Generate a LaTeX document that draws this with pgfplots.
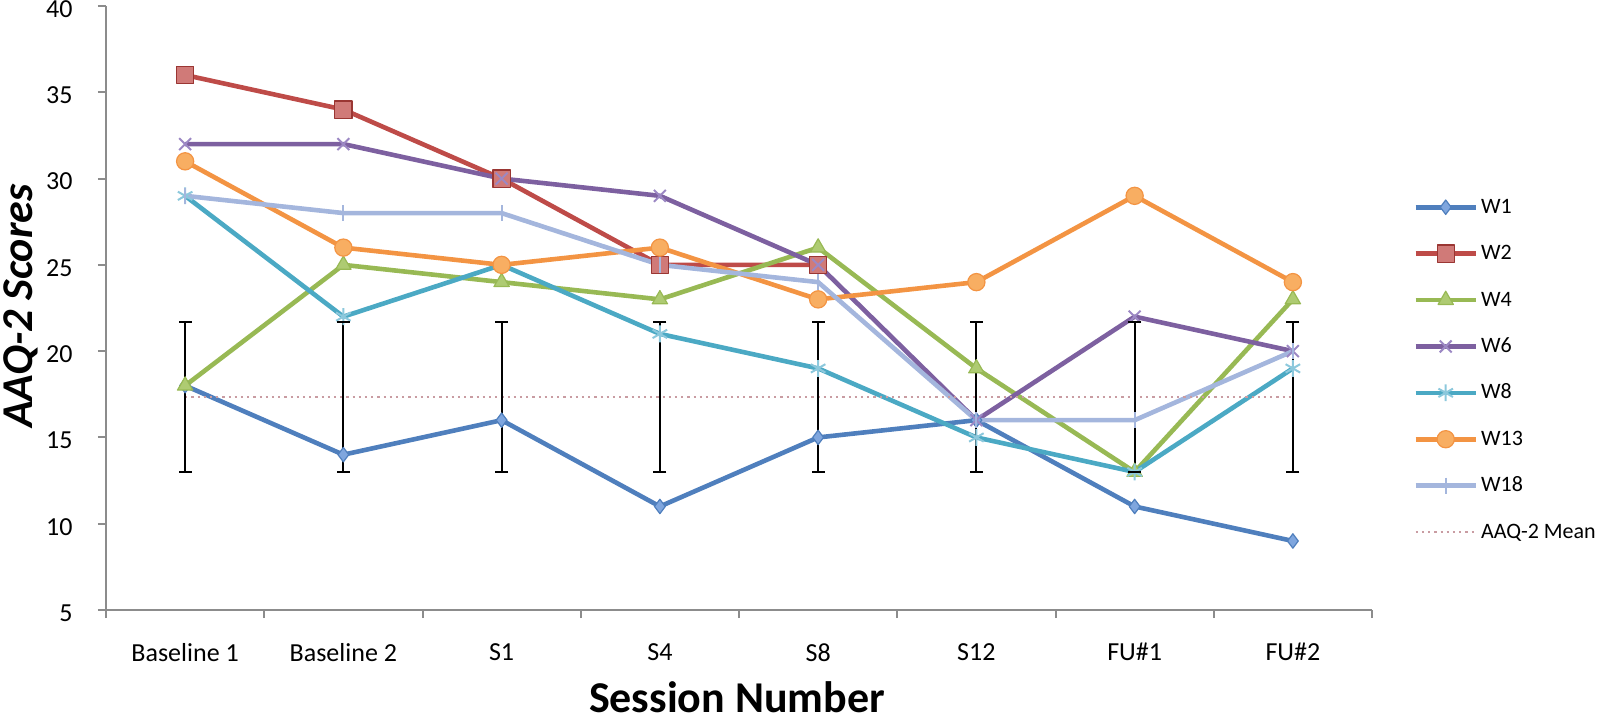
\documentclass[border=0pt]{standalone}
\usepackage{fontspec}
\setmainfont{Carlito}
\usepackage{pgfplots}
\pgfplotsset{compat=1.18}
\definecolor{axisgray}{HTML}{8C8C8C}
\definecolor{cW1}{HTML}{4F7FBD}
\definecolor{fW1}{HTML}{7FA6DE}
\definecolor{cW2}{HTML}{BE4B48}
\definecolor{fW2}{HTML}{D07A78}
\definecolor{dW2}{HTML}{9A3633}
\definecolor{cW4}{HTML}{98B954}
\definecolor{fW4}{HTML}{AECB72}
\definecolor{cW6}{HTML}{7D60A0}
\definecolor{fW6}{HTML}{9C88C4}
\definecolor{cW8}{HTML}{4BA9C4}
\definecolor{fW8}{HTML}{8CC8DC}
\definecolor{cW13}{HTML}{F39443}
\definecolor{fW13}{HTML}{F8AE62}
\definecolor{cW18}{HTML}{A4B6DD}
\definecolor{cMean}{HTML}{C99CA2}
\begin{document}
\begin{tikzpicture}
\begin{axis}[
  at={(53pt,55pt)}, anchor=south west,
  scale only axis, width=633pt, height=302pt,
  xmin=-0.5, xmax=7.5, ymin=5, ymax=40,
  clip=false,
  axis lines=left,
  axis line style={-, draw=axisgray, line width=1pt},
  xtick={-0.5,0.5,...,7.5},
  x tick label as interval,
  xticklabels={Baseline 1,Baseline 2,S1,S4,S8,S12,FU\#1,FU\#2},
  ytick={5,10,...,40},
  tick align=outside, major tick length=4pt,
  tick style={draw=axisgray, line width=1pt},
  /pgf/number format/assume math mode=true,
  ticklabel style={font=\fontsize{13}{15}\selectfont},
  yticklabel style={inner sep=0pt, xshift=-12.5pt, yshift=-1.5pt},
  xticklabel style={inner sep=0pt, yshift=-12.5pt},
  xlabel={\bfseries Session Number},
  xlabel style={font=\fontsize{22}{26}\selectfont, at={(axis description cs:0.4984,0)}, anchor=base, yshift=-51pt},
  ylabel={\bfseries\itshape AAQ-2 Scores},
  ylabel style={font=\fontsize{22}{26}\selectfont, at={(axis description cs:-0.0577,0.503)}, anchor=base},
  legend style={draw=none, fill=none, inner sep=0pt, at={(1.0324,0.398)}, anchor=west,
    font=\fontsize{11}{13}\selectfont, row sep=9.2pt,
    nodes={inner sep=1.5pt, text height=8.5pt, text depth=2.5pt}},
  legend cell align=left,
  legend image code/.code={\draw[mark repeat=2,mark phase=2,#1] plot coordinates {(0pt,0pt) (15pt,0pt) (30pt,0pt)};},
  every axis plot/.append style={line width=2.3pt, line join=round},
]
\addplot[cW1, mark=diamond*, mark size=3.6pt, mark options={solid, line width=0.6pt, draw=cW1, fill=fW1}]
  coordinates {(0,18) (1,14) (2,16) (3,11) (4,15) (5,16) (6,11) (7,9)};
\addlegendentry{W1}
\addplot[cW2, mark=square*, mark size=4.3pt, mark options={solid, line width=0.6pt, draw=dW2, fill=fW2}]
  coordinates {(0,36) (1,34) (2,30) (3,25) (4,25)};
\addlegendentry{W2}
\addplot[cW4, mark=triangle*, mark size=4.4pt, mark options={solid, line width=0.6pt, draw=cW4, fill=fW4}]
  coordinates {(0,18) (1,25) (2,24) (3,23) (4,26) (5,19) (6,13) (7,23)};
\addlegendentry{W4}
\addplot[cW6, mark=x, mark size=4.2pt, mark options={solid, line width=1pt, draw=fW6}]
  coordinates {(0,32) (1,32) (2,30) (3,29) (4,25) (5,16) (6,22) (7,20)};
\addlegendentry{W6}
\addplot[cW8, mark=asterisk, mark size=4.2pt, mark options={solid, line width=1pt, draw=fW8}]
  coordinates {(0,29) (1,22) (2,25) (3,21) (4,19) (5,15) (6,13) (7,19)};
\addlegendentry{W8}
\addplot[cW13, mark=*, mark size=4.3pt, mark options={solid, line width=0.6pt, draw=cW13, fill=fW13}]
  coordinates {(0,31) (1,26) (2,25) (3,26) (4,23) (5,24) (6,29) (7,24)};
\addlegendentry{W13}
\addplot[cW18, mark=|, mark size=4pt, mark options={solid, line width=1pt, draw=cW18}]
  coordinates {(0,29) (1,28) (2,28) (3,25) (4,24) (5,16) (6,16) (7,20)};
\addlegendentry{W18}
\addplot[cMean, line width=1.1pt, dash pattern=on 1.1pt off 2pt, mark=none,
  error bars/.cd, y dir=both, y explicit, error mark=none,
  error bar style={black, line width=0.9pt, solid}]
  coordinates {(0,17.35) +- (0,4.35) (1,17.35) +- (0,4.35) (2,17.35) +- (0,4.35) (3,17.35) +- (0,4.35)
               (4,17.35) +- (0,4.35) (5,17.35) +- (0,4.35) (6,17.35) +- (0,4.35) (7,17.35) +- (0,4.35)};
\addlegendentry{AAQ-2 Mean}
\addplot[forget plot, only marks, black, mark=-, mark size=3.25pt, mark options={solid, line width=0.9pt}]
  coordinates {(0,21.7) (1,21.7) (2,21.7) (3,21.7) (4,21.7) (5,21.7) (6,21.7) (7,21.7)
               (0,13) (1,13) (2,13) (3,13) (4,13) (5,13) (6,13) (7,13)};
\end{axis}
\pgfresetboundingbox
\path[use as bounding box] (0,0) rectangle (800pt,360pt);
\end{tikzpicture}
\end{document}
